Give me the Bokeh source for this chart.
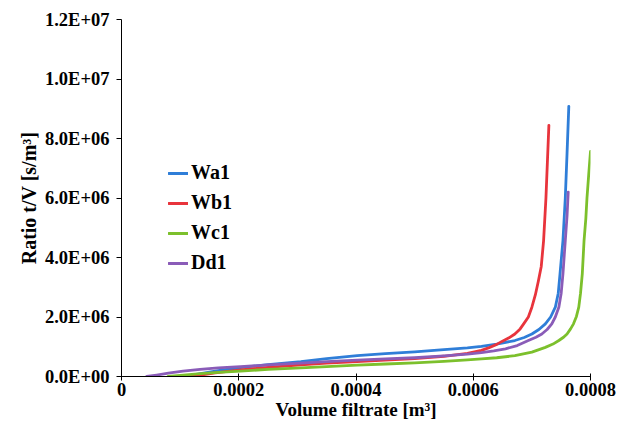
from bokeh.plotting import figure
from bokeh.models import Range1d, FixedTicker, Legend, LegendItem
from bokeh.embed import file_html
from bokeh.resources import INLINE

# ---- data ----
wa1_x = [0.000111, 0.000125, 0.000145, 0.000170, 0.000203, 0.000250, 0.000306, 0.000350, 0.000402,
         0.000450, 0.000500, 0.000550, 0.000590, 0.000614, 0.000640, 0.000671, 0.000687, 0.000700,
         0.000712, 0.000723, 0.000732, 0.000740, 0.000745, 0.000748, 0.000753, 0.000757, 0.000760,
         0.000763]
wa1_y = [0.0, 0.06e6, 0.13e6, 0.21e6, 0.30e6, 0.40e6, 0.50e6, 0.60e6, 0.70e6,
         0.77e6, 0.83e6, 0.90e6, 0.96e6, 1.01e6, 1.09e6, 1.21e6, 1.31e6, 1.43e6,
         1.58e6, 1.77e6, 2.00e6, 2.33e6, 2.80e6, 3.45e6, 4.57e6, 6.0e6, 7.5e6,
         9.08e6]

wb1_x = [0.000117, 0.000135, 0.000160, 0.000203, 0.000250, 0.000306, 0.000350, 0.000402, 0.000450,
         0.000500, 0.000550, 0.000590, 0.000614, 0.000626, 0.000640, 0.000649, 0.000661, 0.000671,
         0.000680, 0.000686, 0.000694, 0.000700, 0.000706, 0.000711, 0.000716, 0.000720, 0.000724,
         0.000729]
wb1_y = [0.0, 0.05e6, 0.12e6, 0.22e6, 0.31e6, 0.39e6, 0.45e6, 0.50e6, 0.55e6,
         0.60e6, 0.68e6, 0.78e6, 0.88e6, 0.96e6, 1.08e6, 1.18e6, 1.30e6, 1.43e6,
         1.60e6, 1.77e6, 2.00e6, 2.33e6, 2.75e6, 3.20e6, 3.70e6, 4.57e6, 6.0e6,
         8.44e6]

wc1_x = [0.0000794, 0.000100, 0.000130, 0.000165, 0.000203, 0.000250, 0.000306, 0.000350, 0.000402,
         0.000450, 0.000500, 0.000550, 0.000590, 0.000614, 0.000640, 0.000671, 0.000700, 0.000723,
         0.000736, 0.000746, 0.000754, 0.000760, 0.000766, 0.000771, 0.000776, 0.000780, 0.000783,
         0.000786, 0.000789, 0.000792, 0.000794, 0.000797, 0.000800]
wc1_y = [0.0, 0.04e6, 0.09e6, 0.14e6, 0.18e6, 0.24e6, 0.29e6, 0.33e6, 0.38e6,
         0.42e6, 0.46e6, 0.51e6, 0.56e6, 0.59e6, 0.63e6, 0.70e6, 0.82e6, 0.98e6,
         1.09e6, 1.21e6, 1.32e6, 1.43e6, 1.60e6, 1.77e6, 2.02e6, 2.33e6, 2.80e6,
         3.45e6, 4.57e6, 5.30e6, 6.0e6, 6.8e6, 7.57e6]

dd1_x = [0.0000429, 0.000060, 0.000080, 0.000105, 0.000134, 0.000165, 0.000203, 0.000250, 0.000306,
         0.000350, 0.000402, 0.000450, 0.000500, 0.000550, 0.000590, 0.000614, 0.000635, 0.000655,
         0.000675, 0.000694, 0.000707, 0.000717, 0.000726, 0.000734, 0.000740, 0.000746, 0.000750,
         0.000753, 0.000757, 0.000760, 0.000762]
dd1_y = [0.0, 0.05e6, 0.11e6, 0.18e6, 0.24e6, 0.29e6, 0.33e6, 0.39e6, 0.45e6,
         0.50e6, 0.55e6, 0.59e6, 0.63e6, 0.69e6, 0.75e6, 0.80e6, 0.86e6, 0.93e6,
         1.04e6, 1.21e6, 1.32e6, 1.43e6, 1.58e6, 1.77e6, 2.00e6, 2.33e6, 2.80e6,
         3.45e6, 4.57e6, 5.40e6, 6.2e6]

series_names = ["Wa1", "Wb1", "Wc1", "Dd1"]
series_colors = ["#2f7ed8", "#e8343c", "#7cc02c", "#8a5cb8"]

x_ticks = [0, 0.0002, 0.0004, 0.0006, 0.0008]
x_tick_labels = ["0", "0.0002", "0.0004", "0.0006", "0.0008"]
y_ticks = [0, 2e6, 4e6, 6e6, 8e6, 1e7, 1.2e7]
y_tick_labels = ["0.0E+00", "2.0E+06", "4.0E+06", "6.0E+06", "8.0E+06", "1.0E+07", "1.2E+07"]

FONT = "Times New Roman, Liberation Serif, serif"

p = figure(width=636, height=431, output_backend="svg", toolbar_location=None,
           x_range=Range1d(0, 0.0008), y_range=Range1d(0, 1.2e7),
           min_border_left=121, min_border_right=46, min_border_top=19, min_border_bottom=55)
p.outline_line_color = None
p.xgrid.grid_line_color = None
p.ygrid.grid_line_color = None
p.background_fill_color = "white"

xs = [wa1_x, wb1_x, wc1_x, dd1_x]
ys = [wa1_y, wb1_y, wc1_y, dd1_y]
renderers = []
for x, y, c in zip(xs, ys, series_colors):
    r = p.line(x, y, line_color=c, line_width=2.8, line_join="round", line_cap="round")
    renderers.append(r)

# axes
p.xaxis.ticker = FixedTicker(ticks=x_ticks)
p.xaxis.major_label_overrides = {t: l for t, l in zip(x_ticks, x_tick_labels)}
p.yaxis.ticker = FixedTicker(ticks=y_ticks)
p.yaxis.major_label_overrides = {t: l for t, l in zip(y_ticks, y_tick_labels)}
for ax in (p.xaxis, p.yaxis):
    ax.axis_line_color = "black"
    ax.axis_line_width = 1
    ax.major_tick_line_color = "black"
    ax.minor_tick_line_color = None
    ax.major_label_text_font = FONT
    ax.major_label_text_font_style = "bold"
    ax.major_label_text_color = "black"
    ax.axis_label_text_font = FONT
    ax.axis_label_text_font_style = "bold"
    ax.axis_label_text_color = "black"
p.xaxis.major_label_text_font_size = "18.5px"
p.yaxis.major_label_text_font_size = "18.5px"
p.xaxis.axis_label_text_font_size = "19px"
p.yaxis.axis_label_text_font_size = "20px"
p.xaxis.major_tick_in = 3
p.xaxis.major_tick_out = 4
p.yaxis.major_tick_in = 0
p.yaxis.major_tick_out = 5
p.xaxis.major_label_standoff = 2
p.yaxis.major_label_standoff = 7
p.xaxis.axis_label = "Volume filtrate [m³]"
p.yaxis.axis_label = "Ratio t/V [s/m³]"
p.xaxis.axis_label_standoff = 0
p.yaxis.axis_label_standoff = 2

legend = Legend(items=[LegendItem(label=n, renderers=[r]) for n, r in zip(series_names, renderers)],
                location=(47, 102), orientation="vertical",
                background_fill_alpha=0, border_line_color=None,
                padding=0, margin=0, spacing=7,
                glyph_width=20, glyph_height=20, label_height=20, label_standoff=3,
                label_text_font=FONT, label_text_font_style="bold",
                label_text_font_size="20px", label_text_color="black")
p.add_layout(legend, "center")

open("out.html", "w").write(file_html(p, INLINE))
